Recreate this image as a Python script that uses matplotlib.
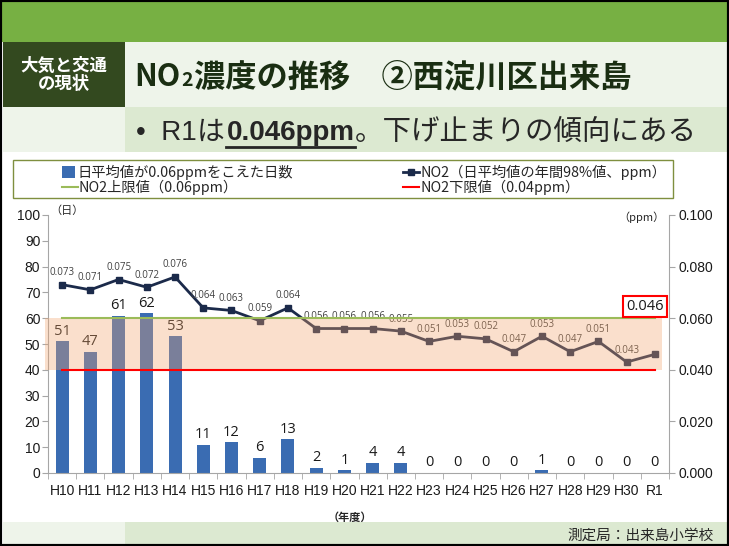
import matplotlib
matplotlib.use("Agg")
import matplotlib.pyplot as plt
from matplotlib.patches import Rectangle
from matplotlib.lines import Line2D

years = ["H10", "H11", "H12", "H13", "H14", "H15", "H16", "H17", "H18", "H19", "H20",
         "H21", "H22", "H23", "H24", "H25", "H26", "H27", "H28", "H29", "H30", "R1"]
days_over = [51, 47, 61, 62, 53, 11, 12, 6, 13, 2, 1, 4, 4, 0, 0, 0, 0, 1, 0, 0, 0, 0]
no2_98 = [0.073, 0.071, 0.075, 0.072, 0.076, 0.064, 0.063, 0.059, 0.064, 0.056, 0.056,
          0.056, 0.055, 0.051, 0.053, 0.052, 0.047, 0.053, 0.047, 0.051, 0.043, 0.046]
upper_limit = 0.06
lower_limit = 0.04
left_ticks = list(range(0, 101, 10))
right_ticks = [0.0, 0.02, 0.04, 0.06, 0.08, 0.1]

W, H = 729, 546
JP = ["Noto Sans CJK JP"]
LAT = ["Liberation Sans", "Noto Sans CJK JP"]
plt.rcParams["font.family"] = LAT

BAR = "#3a6cb2"
NAVY = "#1b2a4a"
GREEN = "#9bbb59"
RED = "#ff0000"

fig = plt.figure(figsize=(W / 100, H / 100), dpi=100)


def rect(x0, y0, x1, y1, color, **kw):
    # pixel box (top-left origin) -> figure patch
    fig.add_artist(Rectangle((x0 / W, 1 - y1 / H), (x1 - x0) / W, (y1 - y0) / H,
                             transform=fig.transFigure, fc=color, ec="none", **kw))


# header / footer bands
rect(0, 0, W, 42, "#77b043")
rect(3, 42, 125, 107, "#33491f")
rect(125, 42, W, 107, "#eef4ea")
rect(3, 107, 125, 152, "#eef4ea")
rect(125, 107, W, 152, "#dce9d1")
rect(3, 522, 125, H, "#eef4ea")
rect(125, 522, W, H, "#dce9d1")

fig.text(64 / W, 1 - 75 / H, "大気と交通\nの現状", family=JP, weight="bold", color="white",
         fontsize=12.5, ha="center", va="center", linespacing=1.0)

renderer = fig.canvas.get_renderer()


def put(x, y, s, **kw):
    t = fig.text(x / W, 1 - y / H, s, ha="left", va="baseline", **kw)
    return t.get_window_extent(renderer)


# title
tc = "#1a2e12"
bb = put(134, 86, "NO", family=JP, weight="bold", fontsize=22, color=tc)
bb = put(bb.x1 + 1, 86, "2", family=JP, weight="bold", fontsize=14, color=tc)
put(bb.x1 + 1, 86, "濃度の推移\u3000②西淀川区出来島", family=JP, weight="bold", fontsize=22.5, color=tc)

# subtitle
sc = "#262626"
bb = put(136, 140, "•  R1", family=LAT, fontsize=20, color=sc)
bb = put(bb.x1, 140, "は", family=JP, fontsize=20, color=sc)
bb2 = put(bb.x1 + 2, 140, "0.046ppm", family=LAT, weight="bold", fontsize=20, color=sc)
fig.add_artist(Line2D([bb2.x0 / W, bb2.x1 / W], [(bb2.y0 - 0.5) / H] * 2,
                      transform=fig.transFigure, color=sc, lw=2))
put(bb2.x1, 140, "。下げ止まりの傾向にある", family=JP, fontsize=20.5, color=sc)

# footer texts
fig.text(714 / W, 1 - 536 / H, "測定局：出来島小学校", family=JP, fontsize=10.5,
         color="#262626", ha="right", va="center")
fig.text(350 / W, 1 - 517 / H, "（年度）", family=JP, weight="bold", fontsize=8,
         color="#262626", ha="center", va="center")

# legend (manual layout in a framed box)
fig.add_artist(Rectangle((13 / W, 1 - 198 / H), 660 / W, 38 / H, transform=fig.transFigure,
                         fill=False, ec="#7f8f3f", lw=1))
lg_fs = 10.3
r1, r2 = 172, 187
fig.add_artist(Rectangle((62 / W, 1 - (r1 + 6) / H), 13 / W, 12 / H,
                         transform=fig.transFigure, fc=BAR, ec="none"))
fig.text(77 / W, 1 - r1 / H, "日平均値が0.06ppmをこえた日数", family=JP, fontsize=lg_fs,
         va="center", color="#262626")
fig.add_artist(Line2D([403 / W, 419 / W], [1 - r1 / H] * 2, transform=fig.transFigure,
                      color=NAVY, lw=2))
fig.add_artist(Line2D([411 / W], [1 - r1 / H], transform=fig.transFigure,
                      color=NAVY, marker="s", markersize=5, linestyle="none"))
fig.text(420 / W, 1 - r1 / H, "NO2（日平均値の年間98%値、ppm）", family=JP, fontsize=lg_fs,
         va="center", color="#262626")
fig.add_artist(Line2D([62 / W, 78 / W], [1 - r2 / H] * 2, transform=fig.transFigure,
                      color=GREEN, lw=1.5))
fig.text(79 / W, 1 - r2 / H, "NO2上限値（0.06ppm）", family=JP, fontsize=lg_fs,
         va="center", color="#262626")
fig.add_artist(Line2D([403 / W, 419 / W], [1 - r2 / H] * 2, transform=fig.transFigure,
                      color=RED, lw=1.5))
fig.text(420 / W, 1 - r2 / H, "NO2下限値（0.04ppm）", family=JP, fontsize=lg_fs,
         va="center", color="#262626")

# main axes
ax = fig.add_axes([48 / W, 73 / H, 621 / W, 258 / H])
ax.set_facecolor("none")
x = list(range(len(years)))
scale = 1000.0  # ppm -> left axis units (0.1 ppm == 100 days)

ax.bar(x, days_over, width=0.46, color=BAR, zorder=2)
for i, v in enumerate(days_over):
    ax.annotate(str(v), (i, v), xytext=(0, 10), textcoords="offset pixels",
                ha="center", va="center", fontsize=10.5, family=["Open Sans"],
                color="#1a1a1a", zorder=3)

no2_scaled = [v * scale for v in no2_98]
ax.plot(x, no2_scaled, color=NAVY, lw=2, marker="s", markersize=5, zorder=4)
# last year is shown in the red box instead of a small label
for i, v in enumerate(no2_98[:-1]):
    ax.annotate(f"{v:.3f}", (i, v * scale), xytext=(0, 12), textcoords="offset pixels",
                ha="center", va="center", fontsize=7, family=["Open Sans"],
                color="#404040", zorder=4)

# band between limits
ax.fill_between([-0.6, 21.25], lower_limit * scale, upper_limit * scale,
                color="#f2a56e", alpha=0.35, lw=0, zorder=5, clip_on=False)
ax.plot([0, len(years) - 1], [upper_limit * scale] * 2, color=GREEN, lw=1.5, zorder=6)
ax.plot([0, len(years) - 1], [lower_limit * scale] * 2, color=RED, lw=1.5, zorder=6)

ax.annotate(f"{no2_98[-1]:.3f}", (len(years) - 1, no2_98[-1] * scale), xytext=(-10, 48),
            textcoords="offset pixels", ha="center", va="center", fontsize=10.5,
            family=["Open Sans"], color="#1a1a1a", zorder=7,
            bbox=dict(boxstyle="square,pad=0.2", fc="white", ec=RED, lw=1.5))

ax.set_xlim(-0.5, len(years) - 0.5)
ax.set_ylim(0, 100)
ax.set_yticks(left_ticks)
ax.set_xticks(x)
ax.set_xticklabels(years)
ax.set_xticks([i - 0.5 for i in range(len(years) + 1)], minor=True)
ax.tick_params(axis="x", which="major", length=0, pad=8, labelsize=10, labelcolor="#1a1a1a")
ax.tick_params(axis="x", which="minor", length=4, color="#a6a6a6")
ax.tick_params(axis="y", length=4, color="#a6a6a6", pad=1.5, labelsize=10, labelcolor="#1a1a1a")
for s in ["top", "right"]:
    ax.spines[s].set_visible(False)
for s in ["left", "bottom"]:
    ax.spines[s].set_color("#a6a6a6")

sec = ax.secondary_yaxis("right", functions=(lambda y: y / scale, lambda y: y * scale))
sec.set_yticks(right_ticks)
sec.set_yticklabels([f"{t:.3f}" for t in right_ticks])
sec.tick_params(length=4, color="#a6a6a6", pad=3, labelsize=10, labelcolor="#1a1a1a")
sec.spines["right"].set_color("#a6a6a6")

fig.text(50 / W, 1 - 211 / H, "（日）", family=JP, fontsize=8, va="center", color="#262626")
fig.text(665 / W, 1 - 217 / H, "（ppm）", family=JP, fontsize=8, va="center", ha="right",
         color="#262626")

# outer frame
fig.add_artist(Rectangle((0, 0), 1, 1, transform=fig.transFigure, fill=False, ec="black", lw=3))

fig.savefig("out.png", dpi=100)
